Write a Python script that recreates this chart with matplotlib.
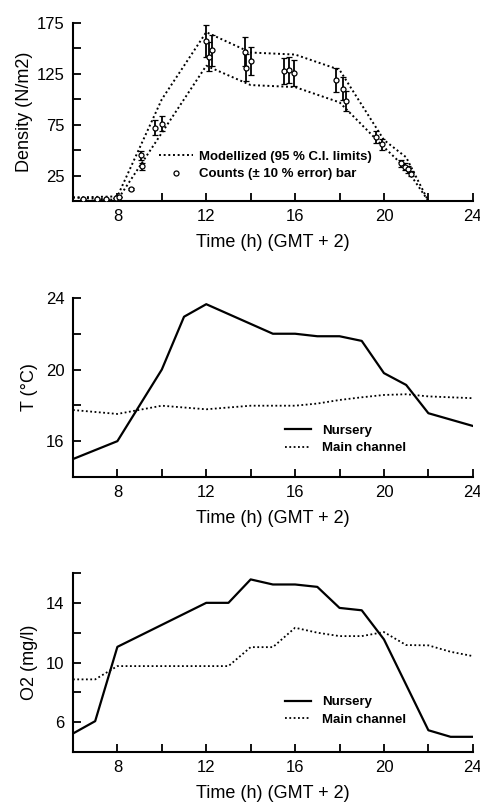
import matplotlib

matplotlib.use("Agg")
import matplotlib.pyplot as plt
import numpy as np

plt.rcParams["font.family"] = ["Liberation Sans", "DejaVu Sans"]

# --- density panel ---------------------------------------------------------
ci_hours = [6, 8, 10, 12, 14, 16, 18, 20, 21, 22]
ci_upper = [3.5, 4.5, 100, 166, 146, 144, 129, 60, 43, 0]
ci_lower = [3.5, 1, 67, 133, 114, 112, 97, 53, 32, 0]

count_hours = [6.47, 7.07, 7.49, 7.94, 8.07, 8.6, 9.05, 9.1, 9.69, 9.99,
               12.0, 12.12, 12.28, 13.74, 13.8, 14.0, 15.5, 15.72, 15.96,
               17.82, 18.14, 18.29, 19.62, 19.9, 20.75, 20.94, 21.09, 21.2]
counts = [1.5, 1.5, 2, 3, 4, 11.5, 45, 34, 72, 76,
          157, 142, 148, 147, 131, 137.5, 127.7, 128.4, 125.8,
          119, 110.5, 98, 63, 55.6, 37, 33.6, 31, 27]

# --- temperature panel -----------------------------------------------------
t_nursery_hours = [6, 8, 10, 11, 12, 15, 16, 17, 18, 19, 20, 21, 22, 24]
t_nursery = [15.0, 16.0, 20.0, 22.95, 23.65, 22.0, 22.0, 21.86, 21.86, 21.6,
             19.8, 19.14, 17.56, 16.85]
t_channel_hours = [6, 8, 10, 12, 14, 16, 17, 18, 19, 20, 21, 22, 24]
t_channel = [17.74, 17.52, 17.98, 17.78, 17.98, 17.98, 18.1, 18.3, 18.45,
             18.58, 18.62, 18.5, 18.4]

# --- oxygen panel ----------------------------------------------------------
o_nursery_hours = [6, 7, 8, 12, 13, 14, 15, 16, 17, 18, 19, 20, 22, 23, 24]
o_nursery = [5.24, 6.07, 11.05, 14.0, 14.0, 15.57, 15.23, 15.23, 15.07, 13.66,
             13.5, 11.55, 5.46, 5.02, 5.02]
o_channel_hours = [6, 7, 8, 13, 14, 15, 16, 17, 18, 19, 20, 21, 22, 23, 24]
o_channel = [8.87, 8.87, 9.76, 9.76, 11.03, 11.03, 12.33, 12.0, 11.77, 11.77,
             12.04, 11.17, 11.15, 10.72, 10.43]

XLABEL = "Time (h) (GMT + 2)"
DOTS = (0, (1, 1.4))
INK = "black"
LEG_FONT = dict(size=9.5, weight="bold")


def style_axis(ax, ylim, yticks, ylabels):
    ax.set_xlim(6, 24)
    ax.set_ylim(*ylim)
    ax.set_xticks(np.arange(6, 25, 2))
    ax.set_xticklabels(["" if h % 4 else str(h) for h in range(6, 25, 2)])
    ax.set_yticks(yticks)
    ax.set_yticklabels(ylabels)
    for s in ("top", "right"):
        ax.spines[s].set_visible(False)
    for s in ("left", "bottom"):
        ax.spines[s].set_linewidth(1.5)
    ax.tick_params(direction="in", length=6, width=1.3, labelsize=12, pad=6)
    ax.set_xlabel(XLABEL, fontsize=13, labelpad=7)


fig = plt.figure(figsize=(4.8, 8.05), dpi=100)

# panel 1: density
ax1 = fig.add_axes([0.152, 0.7503, 0.833, 0.2211])
ax1.plot(ci_hours, ci_upper, color=INK, lw=1.4, ls=DOTS,
         label="Modellized (95 % C.I. limits)")
ax1.plot(ci_hours, ci_lower, color=INK, lw=1.4, ls=DOTS)
cnt = np.array(counts)
ax1.errorbar(count_hours, cnt, yerr=0.1 * cnt, fmt="o", ms=3.6, mfc="white",
             mec=INK, mew=0.9, ecolor=INK, elinewidth=1.3, capsize=2.4,
             capthick=1.1, label="Counts (\u00b1 10 % error) bar", zorder=3)
style_axis(ax1, (0, 175), np.arange(0, 176, 25),
           ["" if v % 50 == 0 else str(v) for v in range(0, 176, 25)])
ax1.set_ylabel("Density (N/m2)", fontsize=13, labelpad=3)
h, l = ax1.get_legend_handles_labels()
ax1.legend([h[0], h[1][0]], l, frameon=False, loc="center left",
           bbox_to_anchor=(0.215, 0.2), prop=LEG_FONT,
           handlelength=2.6, handletextpad=0.4, labelspacing=0.4,
           borderpad=0, borderaxespad=0)

# panel 2: temperature
ax2 = fig.add_axes([0.152, 0.4075, 0.833, 0.2224])
ax2.plot(t_nursery_hours, t_nursery, color=INK, lw=1.6, label="Nursery")
ax2.plot(t_channel_hours, t_channel, color=INK, lw=1.3, ls=DOTS,
         label="Main channel")
style_axis(ax2, (14, 24), np.arange(14, 25, 2),
           ["" if v % 4 else str(v) for v in range(14, 25, 2)])
ax2.set_ylabel("T (\u00b0C)", fontsize=13, labelpad=6)
ax2.legend(frameon=False, loc="center left", bbox_to_anchor=(0.53, 0.21),
           prop=LEG_FONT, handlelength=2.0, handletextpad=0.8,
           labelspacing=0.4, borderpad=0, borderaxespad=0)

# panel 3: oxygen
ax3 = fig.add_axes([0.152, 0.0658, 0.833, 0.2224])
ax3.plot(o_nursery_hours, o_nursery, color=INK, lw=1.6, label="Nursery")
ax3.plot(o_channel_hours, o_channel, color=INK, lw=1.3, ls=DOTS,
         label="Main channel")
style_axis(ax3, (4, 16), np.arange(4, 17, 2),
           ["" if (v - 2) % 4 else str(v) for v in range(4, 17, 2)])
ax3.set_ylabel("O2 (mg/l)", fontsize=13, labelpad=6)
ax3.legend(frameon=False, loc="center left", bbox_to_anchor=(0.53, 0.23),
           prop=LEG_FONT, handlelength=2.0, handletextpad=0.8,
           labelspacing=0.4, borderpad=0, borderaxespad=0)

fig.savefig("out.png", dpi=100)
plt.close(fig)
